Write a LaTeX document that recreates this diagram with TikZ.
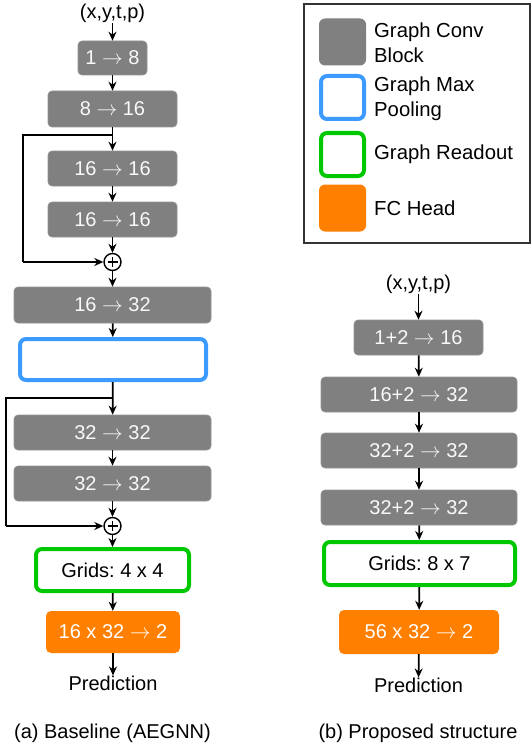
\documentclass[tikz,border=0pt]{standalone}
\usepackage{fontspec}
\setmainfont{Liberation Sans}
\usetikzlibrary{arrows.meta}
\definecolor{convgray}{HTML}{808080}
\definecolor{poolblue}{HTML}{3D9BFF}
\definecolor{readgreen}{HTML}{00C800}
\definecolor{fcorange}{HTML}{FF8000}
\newcommand{\ar}{$\rightarrow$}
\frenchspacing
\begin{document}
\begin{tikzpicture}[x=1pt,y=-1pt,
  every node/.style={font=\fontsize{20}{24}\selectfont, inner sep=0pt},
  conv/.style={rounded corners=4pt, fill=convgray, draw=convgray!85!white, line width=0.6pt, text=white!95!gray},
  pool/.style={rounded corners=6pt, draw=poolblue, line width=4pt, fill=white},
  readout/.style={rounded corners=6pt, draw=readgreen, line width=4pt, fill=white},
  fchead/.style={rounded corners=5pt, fill=fcorange, text=white},
  plain/.style={},
  arr/.style={-{Stealth[length=9pt,width=8pt]}, line width=1.7pt},
  skip/.style={line width=1.7pt},
  sumnode/.style={circle, draw, line width=1.4pt, minimum size=17pt, fill=white},
  swatch/.style={rounded corners=6pt, minimum width=#1, minimum height=#1},
  legtext/.style={anchor=west, align=left, font=\fontsize{20.3}{25}\selectfont}
]
\useasboundingbox (0,0) rectangle (532,749);

% ---------- (a) baseline ----------
\node[plain] (ain) at (112.5,13) {(x,y,t,p)};
\node[conv, minimum width=69pt, minimum height=34pt] (a1) at (112.5,58) {1 \ar{} 8};
\node[conv, minimum width=129pt, minimum height=36pt] (a2) at (112.5,109) {8 \ar{} 16};
\node[conv, minimum width=129pt, minimum height=35pt] (a3) at (112.5,168.5) {16 \ar{} 16};
\node[conv, minimum width=129pt, minimum height=35pt] (a4) at (112.5,219.5) {16 \ar{} 16};
\node[sumnode] (s1) at (112.5,262) {};
\draw[line width=1.3pt] ([yshift=-5pt]s1.center) -- ([yshift=5pt]s1.center) ([xshift=-5pt]s1.center) -- ([xshift=5pt]s1.center);
\node[conv, minimum width=197pt, minimum height=36pt] (a5) at (112.5,305) {16 \ar{} 32};
\node[pool, minimum width=186pt, minimum height=41pt] (ap) at (113,359.5) {};
\node[conv, minimum width=197pt, minimum height=35pt] (a6) at (112.5,432.5) {32 \ar{} 32};
\node[conv, minimum width=197pt, minimum height=35pt] (a7) at (112.5,483.5) {32 \ar{} 32};
\node[sumnode] (s2) at (112.5,526) {};
\draw[line width=1.3pt] ([yshift=-5pt]s2.center) -- ([yshift=5pt]s2.center) ([xshift=-5pt]s2.center) -- ([xshift=5pt]s2.center);
\node[readout, minimum width=153pt, minimum height=42pt] (ag) at (112.5,570) {Grids: 4 x 4};
\node[fchead, minimum width=134pt, minimum height=42pt] (af) at (113,632) {16 x 32 \ar{} 2};
\node[plain] (apred) at (113,683) {Prediction};
\node[plain] (acap) at (112.5,733) {(a) Baseline (AEGNN)};

\coordinate (b1) at (112.5,135);
\coordinate (b1l) at (23,135);
\coordinate (b1d) at (23,262);
\coordinate (b2) at (112.5,398);
\coordinate (b2l) at (6,398);
\coordinate (b2d) at (6,526);

\draw[arr] (ain) -- (a1);
\draw[arr] (a1) -- (a2);
\draw[arr] (a2) -- (a3);
\draw[arr] (a3) -- (a4);
\draw[arr] (a4) -- (s1);
\draw[skip] (b1) -- (b1l) -- (b1d);
\draw[arr] (b1d) -- (s1);
\draw[arr] (s1) -- (a5);
\draw[arr] (a5) -- (ap);
\draw[arr] (ap) -- (a6);
\draw[skip] (b2) -- (b2l) -- (b2d);
\draw[arr] (b2d) -- (s2);
\draw[arr] (a6) -- (a7);
\draw[arr] (a7) -- (s2);
\draw[arr] (s2) -- (ag);
\draw[arr] (ag) -- (af);
\draw[arr] (af) -- (apred);

% ---------- (b) proposed ----------
\node[plain] (bin) at (418.5,284) {(x,y,t,p)};
\node[conv, minimum width=129pt, minimum height=35pt] (c1) at (418.5,337.5) {1+2 \ar{} 16};
\node[conv, minimum width=196pt, minimum height=35pt] (c2) at (419,394.5) {16+2 \ar{} 32};
\node[conv, minimum width=196pt, minimum height=35pt] (c3) at (419,450.5) {32+2 \ar{} 32};
\node[conv, minimum width=196pt, minimum height=35pt] (c4) at (419,507.5) {32+2 \ar{} 32};
\node[readout, minimum width=191pt, minimum height=43pt] (cg) at (419.5,563.5) {Grids: 8 x 7};
\node[fchead, minimum width=160pt, minimum height=44pt] (cf) at (419,632) {56 x 32 \ar{} 2};
\node[plain] (cpred) at (418.5,685) {Prediction};
\node[plain] (ccap) at (418,733) {(b) Proposed structure};

\draw[arr] (bin) -- (c1);
\draw[arr] (c1) -- (c2);
\draw[arr] (c2) -- (c3);
\draw[arr] (c3) -- (c4);
\draw[arr] (c4) -- (cg);
\draw[arr] (cg) -- (cf);
\draw[arr] (cf) -- (cpred);

% ---------- legend ----------
\node[draw=black!80, line width=1.3pt, minimum width=226pt, minimum height=239pt] (leg) at (417,123.5) {};
\node[swatch=47pt, fill=convgray] (l1) at (342.5,42) {};
\node[swatch=43pt, draw=poolblue, line width=4pt, fill=white] (l2) at (342.5,97.5) {};
\node[swatch=43pt, draw=readgreen, line width=4pt, fill=white] (l3) at (342.5,154.5) {};
\node[swatch=47pt, fill=fcorange] (l4) at (342.5,208) {};
\node[legtext] (t1) at (374,43) {Graph Conv\\Block};
\node[legtext] (t2) at (374,99) {Graph Max\\Pooling};
\node[legtext] (t3) at (374,154) {Graph Readout};
\node[legtext] (t4) at (374,208) {FC Head};
\end{tikzpicture}
\end{document}
